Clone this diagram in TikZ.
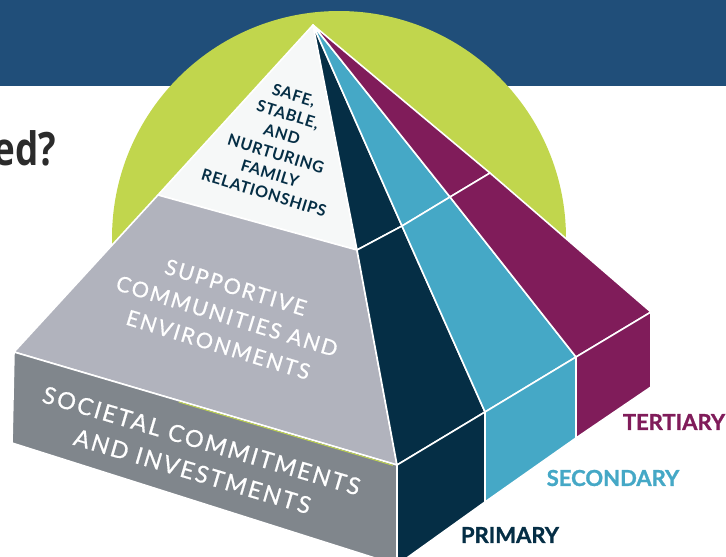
\documentclass[tikz,border=0pt]{standalone}
\usepackage{fontspec}
\usetikzlibrary{calc}
\setmainfont{Lato}
\newfontfamily\tracked[LetterSpace=9, FakeBold=0.6]{Lato}
\newfontfamily\snug[LetterSpace=4]{Lato}
\newfontfamily\heavy[BoldFeatures={FakeBold=1.2}]{Lato}
\newfontfamily\headfont{Open Sans}

\definecolor{banner}{HTML}{204E79}
\definecolor{lime}{HTML}{C1D64D}
\definecolor{navy}{HTML}{052E45}
\definecolor{sky}{HTML}{45A8C6}
\definecolor{plum}{HTML}{801C5A}
\definecolor{stone}{HTML}{B1B3BD}
\definecolor{slate}{HTML}{80868C}
\definecolor{chalk}{HTML}{F6F8F8}
\definecolor{ink}{HTML}{2B2B2B}

\begin{document}
\begin{tikzpicture}[x=1pt,y=-1pt,
  face/.style={draw=white, line width=1.6pt, line join=round},
  layertext/.style={text=white, align=center},
  tier/.style={font=\heavy\bfseries\fontsize{22}{22}\selectfont}]

  \useasboundingbox (0,0) rectangle (726,557);

  % corners of the pyramid, top to bottom
  \path (313,25) coordinate (apex)
        (158,195) coordinate (tl) (357,250) coordinate (tr)
        (402,226) coordinate (d1) (450,197) coordinate (d2) (490,173) coordinate (d3)
        (14,352) coordinate (ml) (397,465) coordinate (mr)
        (485,412) coordinate (s1) (576,357) coordinate (s2) (651,312) coordinate (s3)
        (12,443) coordinate (bl) (397,565) coordinate (br)
        (485,502) coordinate (b1) (576,438) coordinate (b2) (651,387) coordinate (b3);

  \fill[banner] (0,0) rectangle (726,86);
  \fill[lime] (339,238) circle[radius=227pt];

  % top layer
  \filldraw[face, fill=chalk] (apex) -- (tl) -- (tr) -- cycle;
  \filldraw[face, fill=navy] (apex) -- (tr) -- (d1) -- cycle;
  \filldraw[face, fill=sky] (apex) -- (d1) -- (d2) -- cycle;
  \filldraw[face, fill=plum] (apex) -- (d2) -- (d3) -- cycle;

  % middle layer
  \filldraw[face, fill=stone] (tl) -- (tr) -- (mr) -- (ml) -- cycle;
  \filldraw[face, fill=navy] (tr) -- (d1) -- (s1) -- (mr) -- cycle;
  \filldraw[face, fill=sky] (d1) -- (d2) -- (s2) -- (s1) -- cycle;
  \filldraw[face, fill=plum] (d2) -- (d3) -- (s3) -- (s2) -- cycle;

  % base slab
  \filldraw[face, fill=slate] (ml) -- (mr) -- (br) -- (bl) -- cycle;
  \filldraw[face, fill=navy] (mr) -- (s1) -- (b1) -- (br) -- cycle;
  \filldraw[face, fill=sky] (s1) -- (s2) -- (b2) -- (b1) -- cycle;
  \filldraw[face, fill=plum] (s2) -- (s3) -- (b3) -- (b2) -- cycle;
  \draw[lime, line width=0.9pt] ($(ml)!0.43!(mr)+(0,1.4)$) -- ($(mr)+(-4,0.4)$); % circle peeking through

  \node[anchor=base east, xscale=0.8, inner sep=0pt, text=ink, font=\headfont\bfseries\fontsize{46}{46}\selectfont] (question) at (56,165) {ed?};

  \node[text=navy, align=center, rotate=-17, font=\snug\bfseries\fontsize{16}{20.5}\selectfont] (family) at (279,144) {SAFE,\\STABLE,\\AND\\NURTURING\\FAMILY\\RELATIONSHIPS};
  \node[layertext, rotate=-17, font=\tracked\fontsize{21.5}{30}\selectfont] (communities) at (227,316) {SUPPORTIVE\\COMMUNITIES AND\\ENVIRONMENTS};
  \node[layertext, rotate=-16.5, font=\tracked\fontsize{23.5}{32}\selectfont] (societal) at (197,456) {SOCIETAL COMMITMENTS\\AND INVESTMENTS};

  \node[tier, text=plum] (tertiary) at (674,422) {TERTIARY};
  \node[tier, text=sky] (secondary) at (613,478) {SECONDARY};
  \node[tier, text=navy] (primary) at (510,535) {PRIMARY};

\end{tikzpicture}
\end{document}
